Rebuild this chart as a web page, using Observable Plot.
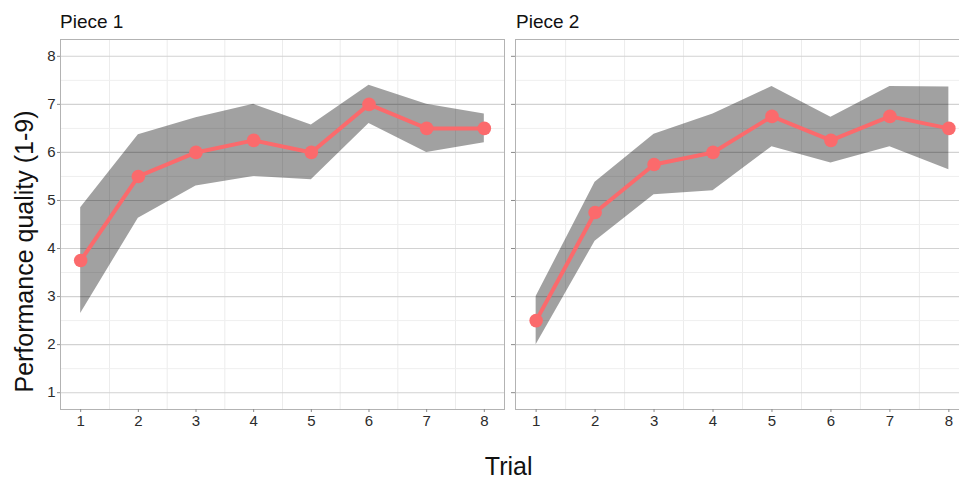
<!DOCTYPE html>
<html>
<head>
<meta charset="utf-8">
<script src="https://cdn.jsdelivr.net/npm/d3@7"></script>
<script src="https://cdn.jsdelivr.net/npm/@observablehq/plot@0.6"></script>
<style>
  html, body { margin: 0; padding: 0; background: #fff; }
  #wrap { position: relative; width: 959px; height: 481px; overflow: hidden; font-family: "Liberation Sans", Arial, sans-serif; }
  #wrap > .panel { position: absolute; top: 0; }
  #wrap > .panel text { font-size: 15px; }
  #overlay { position: absolute; left: 0; top: 0; pointer-events: none; }
</style>
</head>
<body>
<div id="wrap"></div>
<script>
// ---- data ----
const trials = [1, 2, 3, 4, 5, 6, 7, 8];
const pieces = ["Piece 1", "Piece 2"];
const piece1Mean  = [3.75, 5.5, 6.0, 6.25, 6.0, 7.0, 6.5, 6.5];
const piece1Lower = [2.65, 4.63, 5.3, 5.5, 5.43, 6.6, 6.0, 6.2];
const piece1Upper = [4.85, 6.37, 6.72, 7.0, 6.57, 7.4, 7.0, 6.8];
const piece2Mean  = [2.5, 4.75, 5.75, 6.0, 6.75, 6.25, 6.75, 6.5];
const piece2Lower = [2.0, 4.15, 5.12, 5.2, 6.12, 5.78, 6.12, 5.64];
const piece2Upper = [3.0, 5.38, 6.38, 6.8, 7.37, 6.73, 7.37, 7.36];
const yTicks = [1, 2, 3, 4, 5, 6, 7, 8];
const yMinor = [1.5, 2.5, 3.5, 4.5, 5.5, 6.5, 7.5];
const xMinor = [1.5, 2.5, 3.5, 4.5, 5.5, 6.5, 7.5];
const yLabel = "Performance quality (1-9)";
const xLabel = "Trial";

const lineColor = "#fb6a6c";
const domain = [0.65, 8.35];

function rows(mean, lo, hi) {
  return trials.map((t, i) => ({trial: t, mean: mean[i], lo: lo[i], hi: hi[i]}));
}

function panel(data, {left, width, marginLeft, marginRight, showLabels}) {
  const svg = Plot.plot({
    width, height: 481,
    marginLeft, marginRight, marginTop: 39, marginBottom: 72,
    style: {fontFamily: "Liberation Sans, Arial, sans-serif", fontSize: "15px", background: "transparent", overflow: "visible"},
    x: {domain, label: null},
    y: {domain, label: null},
    marks: [
      Plot.ruleX(xMinor, {stroke: "#ececec", strokeWidth: 1}),
      Plot.ruleY(yMinor, {stroke: "#efefef", strokeWidth: 1}),
      Plot.ruleY(yTicks, {stroke: "#d2d2d2", strokeWidth: 1.1}),
      Plot.areaY(data, {x: "trial", y1: "lo", y2: "hi", fill: "#000", fillOpacity: 0.37}),
      Plot.line(data, {x: "trial", y: "mean", stroke: lineColor, strokeWidth: 4}),
      Plot.dot(data, {x: "trial", y: "mean", r: 6.8, fill: lineColor, stroke: "none"}),
      Plot.frame({stroke: "#b3b3b3", strokeWidth: 1}),
      Plot.axisX(trials, {tickSize: 3, tickPadding: 3, fontSize: 15, stroke: "#8a8a8a", fill: "#2b2b2b"}),
      showLabels
        ? Plot.axisY(yTicks, {tickSize: 3, tickPadding: 2, fontSize: 15, stroke: "#8a8a8a", fill: "#2b2b2b"})
        : Plot.axisY(yTicks, {tickSize: 4, tickPadding: 2, stroke: "#8a8a8a", tickFormat: () => ""})
    ]
  });
  svg.classList.add("panel");
  svg.style.left = left + "px";
  return svg;
}

const wrap = document.getElementById("wrap");
wrap.appendChild(panel(rows(piece1Mean, piece1Lower, piece1Upper),
  {left: 0, width: 505, marginLeft: 60, marginRight: 1, showLabels: true}));
wrap.appendChild(panel(rows(piece2Mean, piece2Lower, piece2Upper),
  {left: 508, width: 461, marginLeft: 7, marginRight: 0, showLabels: false}));

// ---- overlay text (titles and axis labels) ----
const ns = "http://www.w3.org/2000/svg";
const ov = document.createElementNS(ns, "svg");
ov.setAttribute("id", "overlay");
ov.setAttribute("width", 959);
ov.setAttribute("height", 481);
function txt(s, x, y, size, anchor, rotate) {
  const t = document.createElementNS(ns, "text");
  t.textContent = s;
  t.setAttribute("x", x);
  t.setAttribute("y", y);
  t.setAttribute("font-size", size);
  t.setAttribute("font-family", "Liberation Sans, Arial, sans-serif");
  t.setAttribute("fill", "#111");
  t.setAttribute("text-anchor", anchor);
  if (rotate) t.setAttribute("transform", `rotate(${rotate} ${x} ${y})`);
  ov.appendChild(t);
}
txt(pieces[0], 60, 28, 19, "start");
txt(pieces[1], 516, 28, 19, "start");
txt(yLabel, 33, 251.5, 25, "middle", -90);
txt(xLabel, 508.7, 475, 25, "middle");
wrap.appendChild(ov);
</script>
</body>
</html>
